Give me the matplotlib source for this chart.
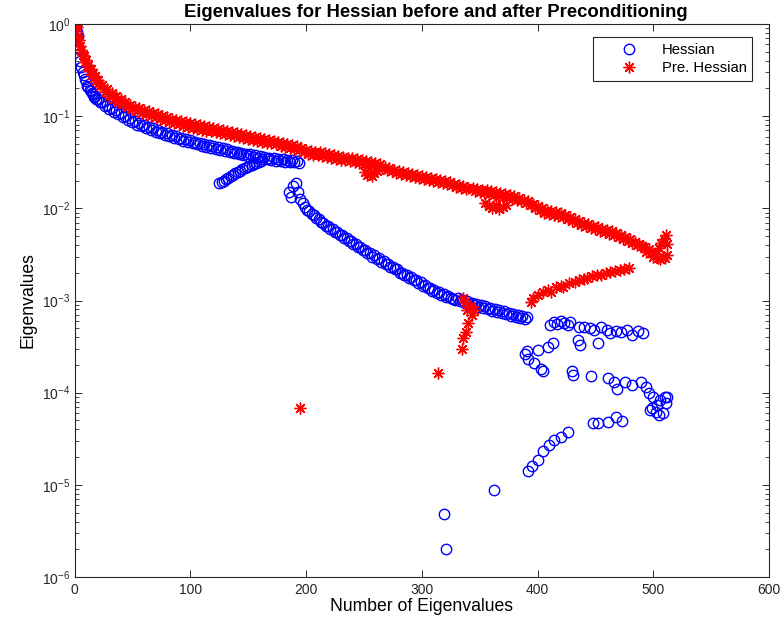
import numpy as np
import matplotlib
matplotlib.use("Agg")
import matplotlib.pyplot as plt

plt.rcParams['font.family'] = ['Liberation Sans', 'DejaVu Sans']
plt.rcParams['mathtext.fontset'] = 'custom'
plt.rcParams['mathtext.rm'] = 'Liberation Sans'
plt.rcParams['mathtext.it'] = 'Liberation Sans:italic'

# ---- Hessian (blue circles) ----
# main branch, idx 0..20 then every 2nd up to 194
hess_a_idx = list(range(0, 21)) + list(range(22, 195, 2))
hess_a = [1.0, 0.96, 0.82, 0.74, 0.54, 0.40, 0.34, 0.30, 0.28, 0.253, 0.24,
          0.21, 0.207, 0.19, 0.188, 0.177, 0.174, 0.162, 0.164, 0.152, 0.154,
          0.143, 0.141, 0.129, 0.133, 0.120, 0.123, 0.111, 0.117, 0.106, 0.109,
          0.098, 0.101, 0.091, 0.0955, 0.086, 0.0887, 0.081, 0.084, 0.078, 0.080,
          0.074, 0.0764, 0.071, 0.074, 0.0675, 0.071, 0.066, 0.0675, 0.0625, 0.065,
          0.061, 0.0625, 0.058, 0.061, 0.056, 0.058, 0.054, 0.056, 0.0525, 0.055,
          0.051, 0.053, 0.050, 0.0515, 0.048, 0.050, 0.0465, 0.0487, 0.045, 0.047,
          0.044, 0.0465, 0.043, 0.045, 0.042, 0.044, 0.041, 0.042, 0.040, 0.041,
          0.039, 0.040, 0.038, 0.039, 0.037, 0.0385, 0.036, 0.038, 0.035, 0.037,
          0.0345, 0.036, 0.034, 0.0355, 0.0335, 0.035, 0.033, 0.0345, 0.0325, 0.034,
          0.032, 0.0335, 0.0315, 0.0335, 0.0315, 0.033, 0.031]

# lower rising branch, odd idx 125..161
hess_b_idx = list(range(125, 162, 2))
hess_b = [0.0188, 0.0194, 0.0198, 0.021, 0.0214, 0.0224, 0.023, 0.0242, 0.0248,
          0.0255, 0.0267, 0.0274, 0.028, 0.0288, 0.0296, 0.0303, 0.0311, 0.032, 0.0323]

# second descending branch, odd idx 185..391
hess_c_idx = list(range(185, 392, 2))
hess_c = [0.0150, 0.0133, 0.0176, 0.0188, 0.0150, 0.0126, 0.0113, 0.0104, 0.0097, 0.0094,
          0.0087, 0.0085, 0.0079, 0.0077, 0.0071, 0.0069, 0.0064, 0.0064, 0.0060, 0.0060,
          0.0055, 0.0055, 0.0051, 0.0051, 0.0048, 0.0048, 0.0044, 0.0044, 0.0041, 0.0041,
          0.0038, 0.0038, 0.0035, 0.0035, 0.0033, 0.0033, 0.0030, 0.0031, 0.0028, 0.0029,
          0.0026, 0.0027, 0.0025, 0.0025, 0.0023, 0.0023, 0.0022, 0.0022, 0.0020, 0.0020,
          0.0019, 0.0019, 0.00175, 0.0018, 0.00167, 0.00167, 0.00155, 0.0016, 0.00144, 0.00148,
          0.00138, 0.00138, 0.00128, 0.00131, 0.00121, 0.00124, 0.00115, 0.00118, 0.00110, 0.00112,
          0.00107, 0.00103, 0.00101, 0.00107, 0.00099, 0.00101, 0.00094, 0.00099, 0.00092, 0.00094,
          0.00090, 0.00092, 0.00085, 0.00090, 0.00083, 0.00088, 0.00081, 0.00083, 0.00077, 0.00081,
          0.00075, 0.00079, 0.00073, 0.00077, 0.00071, 0.00073, 0.00068, 0.00071, 0.00066, 0.00070,
          0.00065, 0.00068, 0.00063, 0.00066]

# scattered tail points
hess_tail_idx = [389, 391, 392, 397, 403, 405, 400, 409, 413,
                 411, 414, 417, 420, 423, 426, 428,
                 436, 440, 445, 449, 455, 460, 463, 468, 472, 477, 482, 487, 491,
                 435, 437, 452,
                 430, 431, 446, 461, 466, 469, 476, 482, 489, 494, 496, 500, 503,
                 506, 510, 512, 497, 502, 508, 499, 505, 511,
                 392, 395, 400, 405, 410, 414, 420, 426, 448, 452, 461, 468, 473,
                 319, 321, 362]
hess_tail = [2.6e-4, 2.8e-4, 2.3e-4, 2.1e-4, 1.8e-4, 1.7e-4, 2.9e-4, 3.1e-4, 3.5e-4,
             5.4e-4, 5.9e-4, 5.6e-4, 6.0e-4, 5.7e-4, 5.4e-4, 5.9e-4,
             5.2e-4, 5.2e-4, 5.0e-4, 4.8e-4, 5.2e-4, 4.8e-4, 4.4e-4, 4.7e-4, 4.5e-4,
             4.8e-4, 4.2e-4, 4.7e-4, 4.4e-4,
             3.7e-4, 3.3e-4, 3.5e-4,
             1.7e-4, 1.55e-4, 1.5e-4, 1.45e-4, 1.3e-4, 1.1e-4, 1.3e-4, 1.2e-4, 1.3e-4,
             1.15e-4, 1.0e-4, 8.9e-5, 7.4e-5, 8.4e-5, 8.9e-5, 9.0e-5, 6.5e-5, 6.2e-5,
             6.0e-5, 6.8e-5, 5.7e-5, 7.8e-5,
             1.4e-5, 1.6e-5, 1.87e-5, 2.3e-5, 2.7e-5, 3.1e-5, 3.3e-5, 3.7e-5, 4.7e-5,
             4.7e-5, 4.8e-5, 5.4e-5, 4.9e-5,
             4.8e-6, 2.0e-6, 8.8e-6]

# ---- Preconditioned Hessian (red asterisks) ----
pre_main_idx = list(range(0, 21)) + list(range(22, 341, 2)) + list(range(344, 513, 2))
pre_main = [1.0, 0.97, 0.93, 0.74, 0.67, 0.58, 0.52, 0.46, 0.45, 0.39, 0.41,
            0.35, 0.36, 0.31, 0.325, 0.28, 0.294, 0.26, 0.273, 0.24, 0.247,
            0.213, 0.218, 0.183, 0.197, 0.166, 0.178, 0.154, 0.166, 0.143, 0.154,
            0.136, 0.143, 0.126, 0.132, 0.120, 0.126, 0.114, 0.123, 0.108, 0.117,
            0.106, 0.114, 0.100, 0.108, 0.098, 0.106, 0.093, 0.100, 0.091, 0.098,
            0.086, 0.093, 0.084, 0.091, 0.082, 0.089, 0.078, 0.086, 0.076, 0.084,
            0.074, 0.082, 0.073, 0.080, 0.071, 0.078, 0.069, 0.076, 0.069, 0.074,
            0.067, 0.073, 0.066, 0.071, 0.064, 0.069, 0.062, 0.067, 0.061, 0.066,
            0.059, 0.064, 0.058, 0.062, 0.057, 0.061, 0.055, 0.059, 0.054, 0.058,
            0.0525, 0.057, 0.051, 0.055, 0.051, 0.054, 0.050, 0.0525, 0.047, 0.051,
            0.046, 0.050, 0.045, 0.049, 0.044, 0.047, 0.043, 0.045, 0.041, 0.043,
            0.039, 0.042, 0.038, 0.041, 0.038, 0.041, 0.037, 0.040, 0.036, 0.039,
            0.035, 0.038, 0.034, 0.037, 0.0335, 0.036, 0.0335, 0.035, 0.0325, 0.035,
            0.032, 0.034, 0.031, 0.0335, 0.030, 0.0325, 0.030, 0.032, 0.029, 0.031,
            0.028, 0.030, 0.0275, 0.028, 0.026, 0.0275, 0.0255, 0.026, 0.024, 0.0255,
            0.0237, 0.0248, 0.023, 0.024, 0.0224, 0.0237, 0.0218, 0.023, 0.0214, 0.0224,
            0.0209, 0.0218, 0.0203, 0.0214, 0.0198, 0.0209, 0.0194, 0.0203, 0.0189, 0.0198,
            0.0184, 0.0194, 0.0180, 0.0184, 0.0171, 0.0180, 0.0167, 0.0176, 0.0163, 0.0167,
            0.0167, 0.0155, 0.0163, 0.0151, 0.0158, 0.0147, 0.0158, 0.0143, 0.0155, 0.0140,
            0.0151, 0.0136, 0.0147, 0.0133, 0.0143, 0.0130, 0.0140, 0.0126, 0.0136, 0.0123,
            0.0130, 0.0120, 0.0123, 0.0114, 0.0120, 0.0109, 0.0112, 0.0101, 0.0105, 0.0097,
            0.0101, 0.0090, 0.0097, 0.0087, 0.0094, 0.0085, 0.0091, 0.0083, 0.0090, 0.0081,
            0.0085, 0.0077, 0.0081, 0.0073, 0.0077, 0.0069, 0.0073, 0.0066, 0.0069, 0.0064,
            0.0067, 0.0061, 0.0064, 0.0060, 0.0062, 0.0057, 0.0060, 0.0055, 0.0058, 0.0053,
            0.0057, 0.0051, 0.0054, 0.0049, 0.0051, 0.0047, 0.0049, 0.0044, 0.0047, 0.0042,
            0.0043, 0.0040, 0.0041, 0.0039, 0.0038, 0.0034, 0.0036, 0.0033, 0.0030, 0.0032,
            0.0029, 0.0028, 0.0030, 0.0029, 0.0031]

# extra red points: bumps, lower branch, isolated stars
pre_extra_idx = [505, 507, 509, 511, 512,
                 251, 253, 255, 257, 259, 261,
                 355, 358, 361, 364, 367, 370, 373,
                 195, 314, 335, 336, 337, 338, 339, 340, 343, 345, 342, 336,
                 394, 396, 400, 405, 409, 412, 416, 420, 422, 427, 432, 436, 440,
                 443, 447, 451, 455, 459, 463, 467, 471, 475, 479]
pre_extra = [0.0037, 0.0042, 0.0046, 0.0051, 0.0041,
             0.0248, 0.023, 0.0237, 0.0224, 0.024, 0.0255,
             0.0114, 0.0105, 0.0101, 0.0109, 0.0099, 0.0103, 0.0109,
             6.8e-5, 1.64e-4, 3.0e-4, 3.9e-4, 9.6e-4, 4.6e-4, 7.9e-4, 5.7e-4, 7.0e-4,
             7.9e-4, 8.8e-4, 1.07e-3,
             9.6e-4, 1.07e-3, 1.15e-3, 1.24e-3, 1.31e-3, 1.24e-3, 1.4e-3, 1.44e-3, 1.4e-3,
             1.55e-3, 1.6e-3, 1.67e-3, 1.7e-3, 1.75e-3, 1.85e-3, 1.9e-3, 1.9e-3, 2.0e-3,
             2.05e-3, 2.1e-3, 2.15e-3, 2.2e-3, 2.26e-3]

hess_x = hess_a_idx + hess_b_idx + hess_c_idx + hess_tail_idx
hess_y = hess_a + hess_b + hess_c + hess_tail
pre_x = pre_main_idx + pre_extra_idx
pre_y = pre_main + pre_extra

fig = plt.figure(figsize=(7.84, 6.21), dpi=100)
ax = fig.add_axes([74.5/784, 1 - 577/621, 694.5/784, 553/621])

asterisk = (8, 2, 0)
ax.plot(hess_x, hess_y, linestyle='none', marker='o', markersize=7.5,
        markerfacecolor='none', markeredgecolor=(0, 0, 1), markeredgewidth=1.0,
        label='Hessian')
ax.plot(pre_x, pre_y, linestyle='none', marker=asterisk, markersize=8.5,
        markeredgecolor=(1, 0, 0), color=(1, 0, 0), markeredgewidth=1.0,
        label='Pre. Hessian')

ax.set_yscale('log')
ax.set_xlim(0, 600)
ax.set_ylim(1e-6, 1)
ax.set_xticks([0, 100, 200, 300, 400, 500, 600])
ax.set_yticks([1e-6, 1e-5, 1e-4, 1e-3, 1e-2, 1e-1, 1])
ax.tick_params(which='both', direction='in', top=True, right=True,
               labelsize=10, colors='#262626')
ax.tick_params(which='major', length=5, width=0.7)
ax.tick_params(which='minor', length=3, width=0.6)
ax.tick_params(axis='x', pad=4)
ax.tick_params(axis='y', pad=3)
for s in ax.spines.values():
    s.set_linewidth(0.8)
    s.set_color('#262626')

ax.set_title('Eigenvalues for Hessian before and after Preconditioning',
             fontsize=13.3, fontweight='bold', pad=5, x=0.52)
ax.set_xlabel('Number of Eigenvalues', fontsize=12.7, labelpad=1)
ax.set_ylabel('Eigenvalues', fontsize=12.7, labelpad=4)

leg = ax.legend(loc='upper right', bbox_to_anchor=(0.976, 0.976), borderaxespad=0,
                fancybox=False, framealpha=1, edgecolor='#262626', fontsize=10.7,
                handlelength=4.1, handletextpad=0.15, borderpad=0.38, labelspacing=0.28)
leg.get_frame().set_linewidth(0.8)

fig.savefig('out.png', dpi=100)
